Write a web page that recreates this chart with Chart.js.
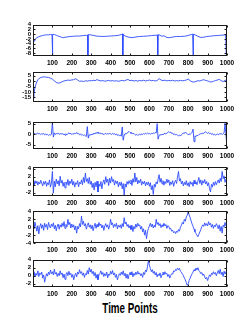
<!DOCTYPE html>
<html>
<head>
<meta charset="utf-8">
<script src="https://cdn.jsdelivr.net/npm/chart.js@4.4.0/dist/chart.umd.min.js"></script>
<style>
  body { margin: 0; background: #fff; }
  #wrap { position: relative; width: 251px; height: 327px; overflow: hidden; }
  #wrap canvas { position: absolute; left: 0; }
  #xtitle {
    position: absolute; top: 300px; left: 0; width: 260px;
    text-align: center; line-height: 14px;
    font: bold 14px 'Liberation Sans', Arial, sans-serif; color: #000;
    transform: scaleX(0.7); transform-origin: 130px 0;
  }
</style>
</head>
<body>
<div id="wrap"><div id="xtitle">Time Points</div></div>
<script>
// x axis tick labels (time points)
const xTicks = [100, 200, 300, 400, 500, 600, 700, 800, 900, 1000];

// panel 1 - smooth signal with periodic downward spikes
const p1x = [0, 3, 6, 10, 15, 20, 30, 40, 50, 60, 70, 80, 90, 98,
  100, 102, 110, 120, 130, 140, 150, 156, 165, 175, 190, 208, 225, 242, 260, 275, 281,
  283, 285, 295, 310, 325, 340, 360, 380, 400, 420, 440, 455, 461,
  463, 465, 470, 480, 495, 510, 530, 550, 570, 590, 610, 630, 641,
  643, 645, 655, 665, 675, 690, 705, 720, 740, 760, 780, 800, 815, 823,
  825, 827, 835, 850, 865, 880, 895, 910, 930, 950, 965, 980, 993,
  996, 1000];
const p1y = [-4.2, -3.4, -2.8, -2.3, -1.8, -1.5, -1.1, -0.8, -0.6, -0.4, -0.3, -0.3, -0.2, -0.2,
  -8.8, -0.1, -0.2, -0.5, -0.8, -1.1, -1.4, -1.5, -1.3, -1.2, -1.0, -0.9, -0.8, -0.8, -0.6, -0.5, -0.4,
  -8.8, -0.2, -0.3, -0.5, -0.8, -0.9, -1.0, -0.9, -0.8, -0.7, -0.5, -0.2, 0.1,
  -8.8, -0.1, -0.5, -1.0, -1.3, -1.5, -1.2, -1.0, -0.9, -0.8, -0.6, -0.5, -0.4,
  -8.8, -0.2, -0.5, -0.9, -0.7, -1.4, -1.5, -1.2, -1.0, -1.0, -0.9, -0.6, -0.2, 0.0,
  -8.8, 0.0, -0.3, -0.9, -1.4, -1.3, -1.0, -0.9, -0.7, -0.6, -0.5, -0.4, -0.3,
  -8.8, -8.5];

// panel 2 - fast rise then settles near zero
const p2x = [0, 5, 10, 15, 20, 25, 30, 40, 50, 60, 70, 80, 90, 100, 110, 120, 130, 140, 150, 160,
  170, 180, 190, 200, 210, 220, 230, 240, 250, 260, 270, 280, 290, 300, 310, 320, 330, 340, 350, 360,
  370, 380, 390, 400, 410, 420, 430, 440, 450, 460, 470, 480, 490, 500, 510, 520, 530, 540, 550, 560,
  570, 580, 590, 600, 610, 620, 630, 640, 650, 660, 670, 680, 690, 700, 710, 720, 730, 740, 750, 760,
  770, 780, 790, 800, 810, 820, 830, 840, 850, 860, 870, 880, 890, 900, 910, 920, 930, 940, 950, 960,
  970, 980, 990, 1000];
const p2y = [-16, -11, -6, -3, -0.5, 1.2, 2.3, 3.3, 3.8, 3.9, 3.6, 3.4, 2.7, 1.8, 0.2, -1.2, -1.9, -1.5, -0.6, 0.2,
  0.5, 1.0, 0.7, 1.1, 1.3, 2.2, 1.0, -0.2, 0.1, -0.4, 0.3, 0.0, 0.5, 0.2, 0.8, 0.4, 1.4, 0.6, 0.2, 0.5,
  -0.1, 0.3, 0.6, 0.1, 0.5, 0.0, 0.4, -0.2, 0.3, 0.7, 0.2, 1.0, 1.5, 0.4, 0.8, 0.1, 0.5, 0.0, 0.6, 0.3,
  0.8, 0.2, 0.5, 1.0, 0.4, 0.7, 0.1, 0.6, 2.3, 1.0, 0.5, 0.9, 0.2, 0.6, 0.3, 0.8, 0.1, 0.5, 0.2, 0.7,
  0.3, 0.6, 1.0, 1.9, 0.4, -0.6, -0.9, -0.2, 0.4, 0.1, 0.8, 1.3, 0.6, 0.2, -0.5, -0.8, -0.2, 0.5, 1.0, 1.6,
  0.4, -0.4, 0.7, 0.9];

// panels 3-6 are sampled every 5 time points (0..1000)
const sampleStep = 5;

const p3y = [0.3, 0.0, 0.4, -0.1, 0.2, 0.5, 0.1, 0.3, -0.2, 0.2,
  0.0, 0.3, -0.3, 0.1, -0.4, -0.1, -0.6, -0.2, -0.5, 0.0,
  5.6, -1.4, 0.6, -0.2, 0.4, 0.1, 0.5, -0.1, 0.3, 0.0,
  0.4, -0.2, 0.1, -0.5, 0.2, -0.3, 0.3, 0.6, 0.1, 0.4,
  -0.2, 0.3, 0.0, 0.5, 0.2, 0.8, 0.1, 0.4, -0.3, 0.1,
  -0.5, -0.2, -0.7, -0.4, -0.8, -1.1, 3.6, -1.9, -0.3, -0.6,
  0.1, -0.4, 0.3, 0.0, 0.6, 0.2, 0.9, 0.4, 0.7, 0.3,
  0.5, 0.0, 0.3, -0.3, 0.2, 0.4, -0.1, 0.3, 0.0, 0.5,
  0.2, -0.2, 0.4, 0.0, 0.3, -0.3, 0.1, -0.6, -0.2, -0.8,
  -0.4, -1.0, 3.4, -2.9, -0.4, 0.3, 0.0, 0.6, 0.9, 1.3,
  0.8, 0.4, 0.7, 0.1, 0.3, -0.2, -0.5, -0.1, -0.6, -0.3,
  0.0, -0.4, 0.2, -0.2, 0.3, 0.0, 0.4, 0.1, 0.5, 0.2,
  0.3, -0.1, 0.4, 0.2, 0.6, 0.3, 0.8, 0.5, 5.0, -2.4,
  -0.6, -0.2, -0.5, 0.0, -0.3, 0.2, 0.4, 0.1, 0.5, 0.8,
  1.2, 0.7, 1.0, 0.3, 0.5, -0.2, 0.1, -0.4, -0.1, -0.6,
  -0.8, -0.4, -0.9, -0.3, 0.0, 0.6, 0.3, 1.0, 0.5, 0.2,
  -0.3, 0.1, -0.2, 0.4, 0.9, 2.4, -3.6, -0.8, -1.2, -0.5,
  -0.7, -0.2, 0.0, 0.3, 0.1, 0.6, 0.3, 0.9, 1.1, 0.7,
  0.4, 0.8, 0.2, 0.5, -0.1, 0.3, -0.4, 0.0, -0.5, -0.2,
  0.1, -0.3, 0.2, 0.0, 0.4, -0.2, 0.3, 0.6, 5.2, -1.0,
  -5.5];

const p4y = [0.6, -0.2, 1.0, 0.3, 0.9, -0.1, 0.7, 0.2, 1.1, 0.4,
  -0.3, 0.8, 0.1, 0.9, -0.4, 0.5, 0.0, 1.2, -0.6, 0.4,
  3.3, -2.1, 0.9, -0.5, 1.4, 0.2, 1.0, -0.3, 2.1, 0.4,
  1.1, -0.4, 0.6, -0.8, 0.7, 0.0, 1.3, -0.2, 0.9, 0.3,
  1.4, -0.1, 0.8, -0.6, 0.5, 0.1, 1.0, -0.5, 0.6, 0.2,
  1.2, 0.0, 1.8, 0.5, 2.9, 0.8, 1.5, 0.3, 1.8, 0.1,
  0.9, -0.7, 0.4, -1.3, 0.6, -0.5, 0.9, -1.8, 0.2, -0.4,
  0.8, -1.0, 0.5, 1.2, 0.1, 2.0, 0.6, 1.4, -0.2, 1.6,
  0.4, 2.0, 0.8, 1.3, -0.1, 1.0, 0.3, 0.9, -0.5, 0.6,
  -0.2, 0.7, -1.0, 0.3, -2.6, 0.2, -0.6, 0.8, 0.1, 1.0,
  0.3, 1.2, -0.2, 1.5, 0.6, 2.9, 0.7, 1.8, 0.2, 1.1,
  0.5, 1.4, -0.1, 0.8, 0.2, 0.9, -0.3, 0.6, 0.0, 0.7,
  -0.4, 0.5, -1.2, -0.2, -2.4, 0.1, -0.6, 0.7, 0.2, 1.4,
  2.5, 0.6, 1.6, 0.2, 1.0, -0.1, 0.8, 0.3, 1.4, 0.5,
  1.2, -0.2, 0.7, 0.1, 1.0, -0.4, 0.6, 1.1, 0.3, 1.9,
  3.3, 0.9, 1.5, 0.2, 0.9, -0.3, 0.6, 0.0, 1.0, -0.2,
  0.5, -0.5, 0.8, 0.1, 0.6, -0.4, 1.1, 0.2, 0.7, 0.0,
  0.9, 1.8, 0.3, 1.2, -0.1, 1.0, 0.4, 1.3, 0.2, 0.8,
  -0.3, 0.5, -1.0, -1.8, 0.1, -0.6, 0.6, -0.2, 0.8, 0.0,
  0.7, 1.2, 0.4, 1.6, 0.8, 3.3, 1.5, 2.2, 0.6, 1.4,
  1.0];

const p5y = [0.5, -0.4, 1.3, 0.2, -1.0, 0.4, -1.7, 0.1, 0.9, -0.3,
  0.6, -0.8, 1.0, 0.0, 0.7, -0.6, 1.2, 0.3, -0.2, 0.8,
  0.2, 1.1, -0.4, 0.5, -0.9, 0.3, 0.8, -0.5, 0.6, 0.0,
  1.0, 0.2, 1.4, -0.3, 0.7, 0.1, 2.0, 0.6, 1.2, -0.2,
  0.8, 0.0, 0.6, -0.7, 0.3, -1.5, 0.2, -0.4, 0.9, 0.1,
  2.8, 0.7, 1.5, 0.3, 0.9, -0.5, 0.4, 1.1, 0.0, 0.6,
  -0.4, 0.5, -0.9, 0.2, 1.0, -0.3, 0.7, 0.1, 1.2, 0.4,
  0.8, -0.2, 0.5, -0.8, 0.3, 0.9, 0.0, 0.6, -0.5, 0.4,
  2.0, 0.6, 1.1, -0.1, 0.7, 0.2, 1.0, -0.4, 0.5, 0.0,
  0.6, -0.3, 0.9, 0.1, 2.4, 0.8, 1.3, 0.2, 0.7, -0.2,
  0.4, -0.6, 0.5, -1.1, 0.2, -0.4, 0.8, 0.0, 1.0, 0.3,
  0.6, -0.5, 0.2, -1.2, -0.4, -2.0, -0.8, -2.9, -1.2, -0.3,
  0.3, 1.0, 0.1, 0.8, -0.2, 0.5, 0.0, 2.0, 0.7, 1.2,
  0.4, 0.9, -0.1, 0.6, 0.2, 1.0, 0.3, 0.7, -0.3, 0.4,
  0.2, -0.5, -0.3, -1.0, -0.8, -1.4, -1.1, -1.6, -1.0, -1.3,
  -0.6, -1.0, 0.0, 0.5, 1.2, 0.8, 2.0, 1.5, 2.6, 3.0,
  4.0, 3.1, 2.4, 1.6, 0.8, 0.2, -0.5, -1.2, -1.6, -2.0,
  -2.4, -1.8, -1.2, -0.6, 0.1, 0.6, 0.2, 1.1, 0.4, 0.9,
  0.3, 1.4, 0.6, 1.0, 0.0, 0.7, -0.3, 0.5, 0.1, 0.9,
  0.4, -0.4, 0.6, -1.0, 0.2, -1.5, 0.5, 0.1, 1.2, 0.3,
  1.5];

const p6y = [0.4, 1.0, -0.3, 0.6, 0.1, 1.2, -0.2, 0.7, 0.3, 0.9,
  -0.6, 0.2, -1.6, -0.4, 0.5, -0.1, 0.9, 0.3, 1.4, 0.5,
  1.0, 0.2, 1.6, 0.4, 0.8, -0.2, 0.6, 0.0, 1.2, 0.3,
  0.7, -0.5, 0.4, -0.9, 0.3, 0.8, 0.0, 1.1, 0.2, 0.6,
  -0.4, 0.3, -1.0, 0.1, 0.6, -0.3, 0.9, 0.4, 1.5, 0.6,
  1.0, 0.1, 0.7, -0.4, 0.5, 0.2, 1.3, 0.4, 2.0, 0.9,
  1.6, 0.5, 1.1, 0.0, 0.8, -0.6, 0.3, -1.0, 0.2, 0.6,
  1.2, 0.3, 0.8, -0.2, 0.5, 0.0, 0.9, -0.5, 0.4, 0.1,
  1.1, 0.4, 1.3, 0.2, 0.7, -0.4, 0.3, -1.0, -0.2, 0.5,
  0.1, 0.9, 0.3, 1.2, 0.0, 0.6, -0.6, 0.4, -0.8, 0.2,
  0.8, 0.2, 1.0, -0.3, 0.6, 0.1, 0.9, 0.3, 1.1, 0.4,
  0.7, 0.0, 0.5, -0.4, 0.8, 0.3, 1.4, 1.0, 2.2, 3.7,
  2.6, 1.8, 1.0, 1.5, 0.6, 1.1, 0.2, 0.8, -0.3, 0.4,
  0.0, 0.7, -0.5, 0.3, 0.9, 0.2, 1.0, 0.4, 0.6, -0.2,
  0.3, -0.6, 0.1, 0.5, 0.4, 1.2, 1.0, 1.6, 1.3, 1.9,
  1.5, 1.8, 1.1, 0.9, 0.4, 0.1, -0.6, -1.0, -1.7, -2.4,
  -2.0, -1.2, -0.6, 0.0, 0.5, 0.9, 1.5, 1.2, 1.9, 1.4,
  2.0, 1.3, 1.0, 0.5, 0.8, 0.1, 0.4, -0.3, -0.8, -0.4,
  -1.2, -0.5, 0.2, -0.2, 0.6, 0.3, 1.0, 0.4, 0.8, 0.0,
  0.7, 1.3, 0.5, 1.6, 0.3, 0.9, -0.2, 1.1, 0.4, 1.0,
  0.6];

// y axis limits and tick labels for each panel
const yLimits = [[-9.2, 4], [-19.3, 8.8], [-7.1, 6], [-2.8, 4.5], [-4, 4.2], [-2.8, 4]];
const yTickLabels = [
  [4, 2, 0, -2, -4, -6, -8],
  [5, 0, -5, -10, -15],
  [5, 0, -5],
  [4, 2, 0, -2],
  [4, 2, 0, -2, -4],
  [4, 2, 0, -2]
];

function toPoints(xs, ys) {
  return ys.map((v, i) => ({ x: xs ? xs[i] : i * sampleStep, y: v }));
}

const series = [
  toPoints(p1x, p1y),
  toPoints(p2x, p2y),
  toPoints(null, p3y),
  toPoints(null, p4y),
  toPoints(null, p5y),
  toPoints(null, p6y)
];

// plot box positions on the page
const boxTop = [23, 70, 120, 165, 209, 258];
const boxBottom = [56, 102, 149, 196, 243, 287];
const padTop = 4;
const axisW = 33;
const xAxisH = 14;

const tickFont = { family: "'Liberation Sans', Arial, sans-serif", size: 6.5, weight: 'bold' };

// draw the closed axes box with inward ticks
const boxPlugin = {
  id: 'box',
  afterDraw(chart) {
    const { ctx, chartArea: a, scales } = chart;
    const l = Math.round(a.left) + 0.5, r = Math.round(a.right) - 0.5;
    const t = Math.round(a.top) + 0.5, b = Math.round(a.bottom) - 0.5;
    ctx.save();
    ctx.strokeStyle = '#1a1a1a';
    ctx.lineWidth = 1;
    ctx.strokeRect(l, t, r - l, b - t);
    ctx.beginPath();
    scales.x.ticks.forEach(tk => {
      const px = Math.round(scales.x.getPixelForValue(tk.value)) + 0.5;
      ctx.moveTo(px, b); ctx.lineTo(px, b - 2);
      ctx.moveTo(px, t); ctx.lineTo(px, t + 2);
    });
    scales.y.ticks.forEach(tk => {
      const py = Math.round(scales.y.getPixelForValue(tk.value)) + 0.5;
      ctx.moveTo(l, py); ctx.lineTo(l + 2, py);
      ctx.moveTo(r, py); ctx.lineTo(r - 2, py);
    });
    ctx.stroke();
    ctx.restore();
  }
};

const wrap = document.getElementById('wrap');

series.forEach((pts, i) => {
  const h = padTop + (boxBottom[i] - boxTop[i]) + xAxisH;
  const canvas = document.createElement('canvas');
  canvas.width = 251;
  canvas.height = h;
  canvas.style.top = (boxTop[i] - padTop) + 'px';
  wrap.appendChild(canvas);

  new Chart(canvas.getContext('2d'), {
    type: 'line',
    data: {
      datasets: [{
        data: pts,
        borderColor: 'rgb(45, 75, 255)',
        borderWidth: 0.9,
        pointRadius: 0,
        tension: 0,
        fill: false
      }]
    },
    options: {
      responsive: false,
      devicePixelRatio: 1,
      animation: false,
      events: [],
      layout: { padding: { top: padTop, right: 24, left: 0, bottom: 0 } },
      plugins: { legend: { display: false }, tooltip: { enabled: false } },
      scales: {
        x: {
          type: 'linear',
          min: 0,
          max: 1000,
          grid: { display: false, drawTicks: false },
          border: { display: false },
          afterBuildTicks: axis => { axis.ticks = xTicks.map(v => ({ value: v })); },
          afterFit: axis => { axis.height = xAxisH; },
          ticks: { autoSkip: false, maxRotation: 0, color: '#000', font: tickFont, padding: 3, callback: v => String(v) }
        },
        y: {
          min: yLimits[i][0],
          max: yLimits[i][1],
          grid: { display: false, drawTicks: false },
          border: { display: false },
          afterBuildTicks: axis => { axis.ticks = yTickLabels[i].map(v => ({ value: v })); },
          afterFit: axis => { axis.width = axisW; },
          ticks: { autoSkip: false, color: '#000', font: { ...tickFont, size: 6 }, padding: 2, callback: v => String(v) }
        }
      }
    },
    plugins: [boxPlugin]
  });
});
</script>
</body>
</html>
